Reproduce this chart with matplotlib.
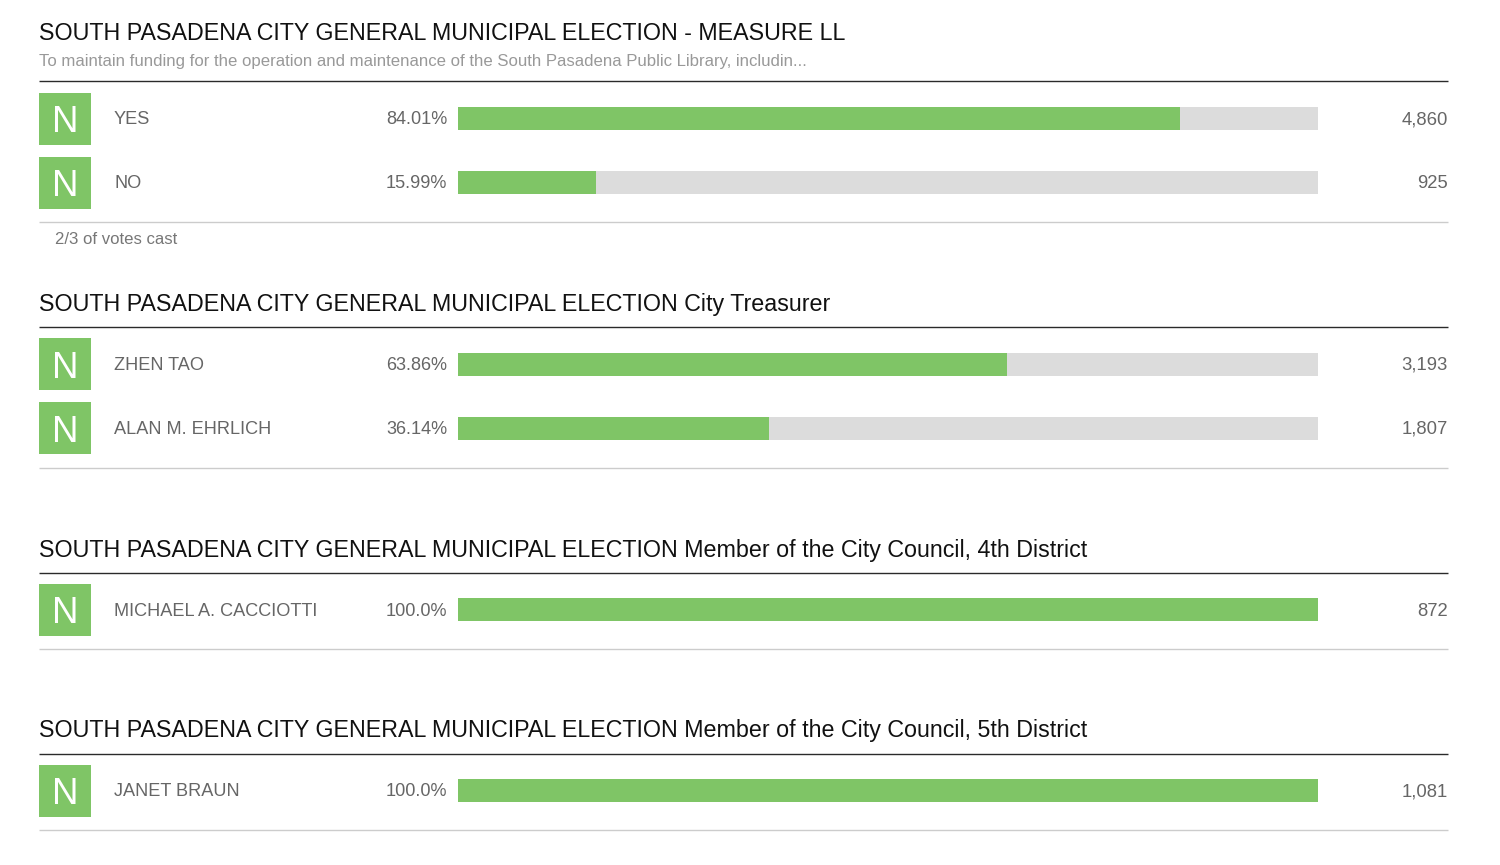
import matplotlib
matplotlib.use('Agg')
import matplotlib.pyplot as plt
from matplotlib.patches import Rectangle

plt.rcParams['font.family'] = ['Liberation Sans', 'DejaVu Sans']

# Datos de cada contienda
titulos = ['SOUTH PASADENA CITY GENERAL MUNICIPAL ELECTION - MEASURE LL',
           'SOUTH PASADENA CITY GENERAL MUNICIPAL ELECTION City Treasurer',
           'SOUTH PASADENA CITY GENERAL MUNICIPAL ELECTION Member of the City Council, 4th District',
           'SOUTH PASADENA CITY GENERAL MUNICIPAL ELECTION Member of the City Council, 5th District']
subtitulo = 'To maintain funding for the operation and maintenance of the South Pasadena Public Library, includin...'
nota = '2/3 of votes cast'
nombres = [['YES', 'NO'], ['ZHEN TAO', 'ALAN M. EHRLICH'], ['MICHAEL A. CACCIOTTI'], ['JANET BRAUN']]
porcentajes = [[84.01, 15.99], [63.86, 36.14], [100.0], [100.0]]
votos = [['4,860', '925'], ['3,193', '1,807'], ['872'], ['1,081']]

# Posiciones verticales en pixeles
y_titulo = [34, 304, 550, 731]
y_regla = [81, 327, 572.5, 753.5]
y_filas = [[118.5, 182.5], [364, 428], [609.5], [790.5]]
y_fin = [221.5, 467.5, 648.5, 829.5]

VERDE = '#7fc566'
GRIS = '#dcdcdc'
TEXTO = '#666666'
W, H = 1500, 865

fig = plt.figure(figsize=(W / 100, H / 100), dpi=100, facecolor='white')

# Capa en pixeles para textos, reglas y cuadros
ax = fig.add_axes([0, 0, 1, 1])
ax.set_xlim(0, W)
ax.set_ylim(H, 0)
ax.axis('off')

# Capa de barras: el eje x va de 0 a 100 %
ax_b = fig.add_axes([458 / W, 0, 860 / W, 1])
ax_b.set_xlim(0, 100)
ax_b.set_ylim(H, 0)
ax_b.axis('off')
ax_b.patch.set_alpha(0)

for i, titulo in enumerate(titulos):
    ax.text(39.2, y_titulo[i], titulo, fontsize=16.74, color='#111111', va='center', ha='left')
    ax.plot([39, 1447.5], [y_regla[i]] * 2, color='#2a2a2a', lw=1.0, solid_capstyle='butt')
    ax.plot([39, 1447.5], [y_fin[i]] * 2, color='#cccccc', lw=1.0, solid_capstyle='butt')

    for nombre, pct, voto, y in zip(nombres[i], porcentajes[i], votos[i], y_filas[i]):
        ax.add_patch(Rectangle((39.2, y - 25.8), 51.8, 51.8, color=VERDE, lw=0))
        ax.text(65, y + 4, 'N', fontsize=26.5, color='white', va='center', ha='center')
        ax.text(114, y + 1.5, nombre, fontsize=13.1, color=TEXTO, va='center', ha='left')
        etiqueta = f'{pct:.1f}%' if pct == 100 else f'{pct:.2f}%'
        ax.text(447.3, y + 1.5, etiqueta, fontsize=13.1, color=TEXTO, va='center', ha='right')
        ax.text(1448, y + 1.5, voto, fontsize=13.3, color=TEXTO, va='center', ha='right')
        ax_b.barh(y, 100, height=23, color=GRIS, lw=0)
        ax_b.barh(y, pct, height=23, color=VERDE, lw=0)

ax.text(39.2, 61.5, subtitulo, fontsize=12.03, color='#999999', va='center', ha='left')
ax.text(54.7, 239.5, nota, fontsize=12.1, color='#777777', va='center', ha='left')

fig.savefig('out.png', dpi=100, facecolor='white')
